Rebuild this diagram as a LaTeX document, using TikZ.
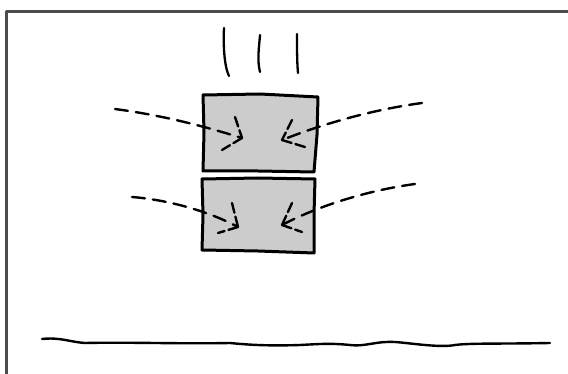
\documentclass[tikz,border=0pt]{standalone}
\begin{document}
\begin{tikzpicture}[x=1pt,y=-1pt,line join=round,line cap=round,
  frameline/.style={draw=black!70,line width=2.2pt,line cap=butt},
  block/.style={draw=black,fill=black!20,line width=3pt},
  stroke/.style={draw=black,line width=2.3pt},
  flow/.style={draw=black,line width=2.4pt,dash pattern=on 13pt off 8pt},
  barb/.style={draw=black,line width=2.4pt,dash pattern=on 10pt off 4pt}]
\useasboundingbox (0,0) rectangle (568,374);
% frame
\draw[frameline] (6.5,374) -- (6.5,11.5) -- (568,11.5);
% falling strokes
\draw[stroke] (224,28) .. controls (223,50) and (225,68) .. (229,76);
\draw[stroke] (260,35) .. controls (259,48) and (257,60) .. (260,72);
\draw[stroke] (297,34) .. controls (297,50) and (297,62) .. (298,73);
% blocks
\draw[block] (203,95) -- (260,94) -- (318,97) -- (317,135) -- (314,172) -- (258,171) -- (203,171) -- (204,132) -- cycle;
\draw[block] (202,179) -- (258,178) -- (315,179) -- (314,215) -- (314,253) -- (258,251) -- (202,250) -- (203,215) -- cycle;
% inflow arrows upper
\draw[flow] (115,109) .. controls (160,115) and (200,125) .. (242,138);
\draw[barb] (235,117) -- (242,138);
\draw[barb] (242,138) -- (222,150);
\draw[flow] (422,103) .. controls (370,110) and (320,125) .. (282,140);
\draw[barb] (292,120) -- (282,140);
\draw[barb] (282,140) -- (305,147);
% inflow arrows lower
\draw[flow] (132,197) .. controls (170,200) and (210,212) .. (238,227);
\draw[barb] (232,203) -- (238,227);
\draw[barb] (238,227) -- (218,233);
\draw[flow] (415,184) .. controls (370,190) and (320,205) .. (282,225);
\draw[barb] (292,203) -- (282,225);
\draw[barb] (282,225) -- (302,232);
% ground
\draw[draw=black,line width=2.4pt] (42,339) .. controls (60,337) and (70,342) .. (85,343)
  .. controls (130,342) and (180,344) .. (230,343)
  .. controls (250,345) and (270,346) .. (300,345)
  .. controls (320,344) and (330,343) .. (350,345)
  .. controls (365,347) and (375,341) .. (395,342)
  .. controls (410,343) and (440,348) .. (455,345)
  .. controls (470,343) and (500,344) .. (550,343);
\end{tikzpicture}
\end{document}
